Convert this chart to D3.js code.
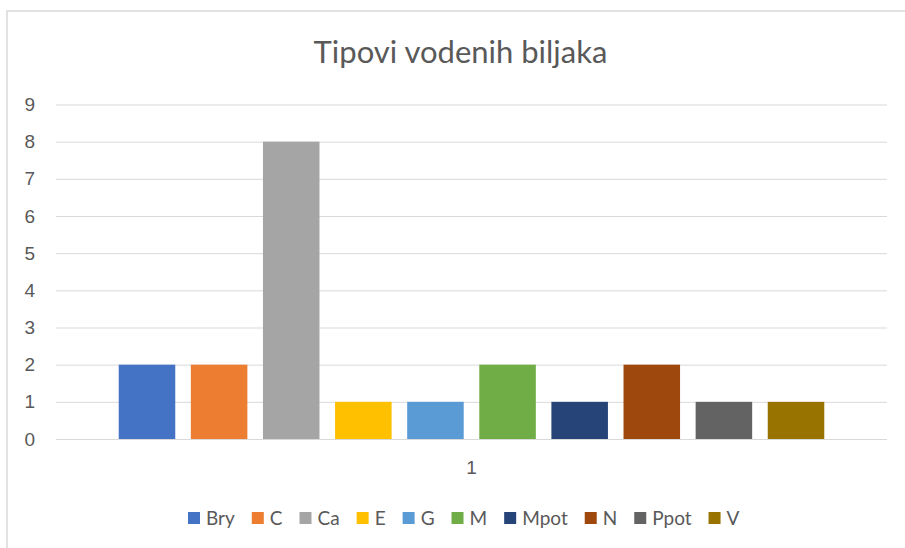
<!DOCTYPE html>
<html>
<head>
<meta charset="utf-8">
<script src="https://cdn.jsdelivr.net/npm/d3@7"></script>
<style>
  body { margin: 0; background: #fff; }
  svg { display: block; font-family: Lato, "Noto Sans", sans-serif; }
</style>
</head>
<body>
<svg></svg>
<script>
// Data
const categories = ["1"];
const seriesNames = ["Bry", "C", "Ca", "E", "G", "M", "Mpot", "N", "Ppot", "V"];
const seriesValues = [2, 2, 8, 1, 1, 2, 1, 2, 1, 1];
const yTicks = [0, 1, 2, 3, 4, 5, 6, 7, 8, 9];
const colors = ["#4472C4", "#ED7D31", "#A5A5A5", "#FFC000", "#5B9BD5",
                "#70AD47", "#264478", "#9E480E", "#636363", "#997300"];

const W = 905, H = 548;
const margin = { top: 104.5, right: 18, bottom: 109, left: 56 },
width = W - margin.left - margin.right,
height = H - margin.top - margin.bottom;

const svg = d3.select("svg")
        .attr("width", W)
        .attr("height", H);

// chart border (cropped at right and bottom)
svg.append("rect")
 .attr("x", 7).attr("y", 11)
 .attr("width", 940).attr("height", 580)
 .attr("fill", "#fff")
 .attr("stroke", "#d9d9d9")
 .attr("stroke-width", 1.5);

// Title
svg.append("text")
 .attr("x", 460.5).attr("y", 63)
 .attr("text-anchor", "middle")
 .attr("fill", "#595959")
 .style("font-size", "31px")
 .text("Tipovi vodenih biljaka");

const g = svg.append("g")
        .attr("transform", `translate(${margin.left},${margin.top})`);

// Y axis with gridlines
const y = d3.scaleLinear()
          .domain([0, 9])
          .range([height, 0]);
const yAxis = g.append("g")
 .call(d3.axisLeft(y).tickValues(yTicks).tickSize(-width).tickPadding(21).tickFormat(d3.format("d")));
yAxis.select(".domain").remove();
yAxis.selectAll("line").attr("stroke", "#d9d9d9");
yAxis.selectAll("text").attr("fill", "#595959").style("font-size", "19px");

// X axis (category)
const x0 = d3.scaleBand()
          .domain(categories)
          .range([0, width])
          .paddingInner(0)
          .paddingOuter(0.0889);
const x1 = d3.scaleBand()
          .domain(seriesNames)
          .range([0, x0.bandwidth()])
          .paddingInner(0.216)
          .paddingOuter(0);

const xAxis = g.append("g")
 .attr("transform", `translate(0,${height})`)
 .call(d3.axisBottom(x0).tickSize(0).tickPadding(22));
xAxis.select(".domain").remove();
xAxis.selectAll("text").attr("fill", "#595959").style("font-size", "19px");

// Bars
g.selectAll(".grp")
 .data(categories)
 .enter()
 .append("g")
  .attr("transform", d => `translate(${x0(d)},0)`)
 .selectAll("rect")
 .data(seriesNames.map((n, i) => ({ name: n, value: seriesValues[i], color: colors[i] })))
 .enter()
 .append("rect")
  .attr("x", d => x1(d.name))
  .attr("y", d => y(d.value))
  .attr("width", x1.bandwidth())
  .attr("height", d => y(0) - y(d.value))
  .attr("fill", d => d.color);

// Legend
const legend = svg.append("g");
let cx = 188;
seriesNames.forEach((n, i) => {
  const item = legend.append("g").attr("transform", `translate(${cx},0)`);
  item.append("rect")
   .attr("x", 0).attr("y", 512)
   .attr("width", 12).attr("height", 12)
   .attr("fill", colors[i]);
  const t = item.append("text")
   .attr("x", 18).attr("y", 525)
   .attr("fill", "#595959")
   .style("font-size", "19px")
   .text(n);
  cx += 18 + t.node().getComputedTextLength() + 17;
});
</script>
</body>
</html>
